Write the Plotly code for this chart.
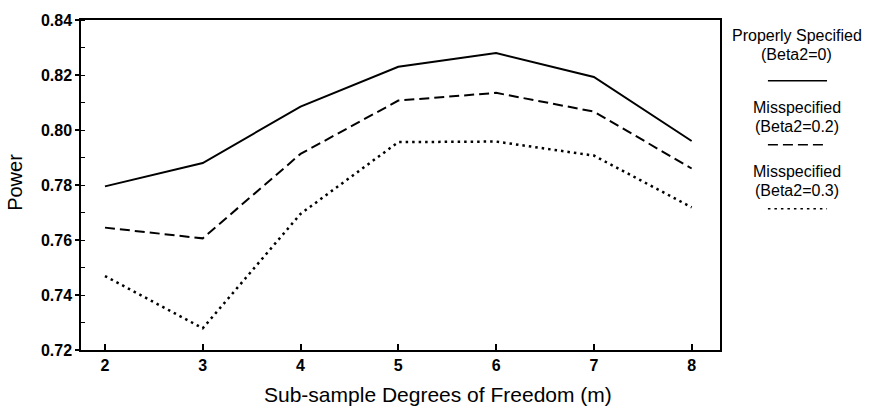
import plotly.graph_objects as go

df_m = [2, 3, 4, 5, 6, 7, 8]
power_proper = [0.7795, 0.788, 0.8085, 0.823, 0.828, 0.8193, 0.796]
power_mis02 = [0.7645, 0.7606, 0.7913, 0.8107, 0.8135, 0.8067, 0.786]
power_mis03 = [0.7469, 0.7279, 0.7695, 0.7956, 0.7958, 0.7907, 0.7719]
series_names = ["Properly Specified (Beta2=0)", "Misspecified (Beta2=0.2)", "Misspecified (Beta2=0.3)"]
y_ticks = [0.72, 0.74, 0.76, 0.78, 0.80, 0.82, 0.84]
y_tick_labels = ["0.72", "0.74", "0.76", "0.78", "0.80", "0.82", "0.84"]
x_title = "Sub-sample Degrees of Freedom (m)"
y_title = "Power"

FONT = "Liberation Sans, Arial, Helvetica, sans-serif"
DASHED = "10px,5px"
DOTTED = "2.5px,4px"

fig = go.Figure()
styles = [("solid", 2, power_proper), (DASHED, 2, power_mis02), (DOTTED, 2.5, power_mis03)]
for name, (dash, w, vals) in zip(series_names, styles):
    fig.add_trace(go.Scatter(x=df_m, y=vals, mode="lines", name=name,
                             line=dict(color="black", width=w, dash=dash),
                             showlegend=False))

tickfont = dict(size=16, family=FONT, weight="bold")
fig.update_layout(
    width=870, height=413,
    margin=dict(l=81, r=150, t=15, b=63),
    paper_bgcolor="white", plot_bgcolor="white",
    font=dict(family=FONT, color="black", size=16),
    xaxis=dict(range=[1.755, 8.29], tickvals=df_m, ticks="inside", ticklen=6,
               tickwidth=1.5, tickcolor="black", showline=True, linecolor="black",
               linewidth=1.5, mirror=True, showgrid=False, zeroline=False,
               tickfont=tickfont),
    yaxis=dict(range=[0.72, 0.84], tickvals=y_ticks, ticktext=y_tick_labels,
               ticks="outside", ticklen=4, tickwidth=1.5, tickcolor="black",
               minor=dict(dtick=0.01, ticks="inside", ticklen=4, tickcolor="black", tickwidth=1),
               showline=True, linecolor="black", linewidth=1.5, mirror=True,
               showgrid=False, zeroline=False, tickfont=tickfont),
)

# axis titles
fig.add_annotation(x=0.559, y=-0.134, xref="paper", yref="paper", text=x_title,
                   showarrow=False, xanchor="center", yanchor="middle",
                   font=dict(size=21, family=FONT))
fig.add_annotation(x=-0.103, y=0.507, xref="paper", yref="paper", text=y_title,
                   showarrow=False, xanchor="center", yanchor="middle", textangle=-90,
                   font=dict(size=20, family=FONT))

# legend block (text above sample line)
leg_x = 1.1205
leg_items = [
    ("Properly Specified", 0.952, "(Beta2=0)", 0.896, 0.816, "solid"),
    ("Misspecified", 0.734, "(Beta2=0.2)", 0.676, 0.622, DASHED),
    ("Misspecified", 0.54, "(Beta2=0.3)", 0.482, 0.428, DOTTED),
]
for t1, y1, t2, y2, yl, dash in leg_items:
    fig.add_annotation(x=leg_x, y=y1, xref="paper", yref="paper", text=t1,
                       showarrow=False, xanchor="center", yanchor="middle",
                       font=dict(size=16, family=FONT))
    fig.add_annotation(x=leg_x, y=y2, xref="paper", yref="paper", text=t2,
                       showarrow=False, xanchor="center", yanchor="middle",
                       font=dict(size=16, family=FONT))
    fig.add_shape(type="line", xref="paper", yref="paper", x0=1.075, x1=1.1675,
                  y0=yl, y1=yl, line=dict(color="black", width=1.5, dash=dash))

fig.write_html("out.html", config={"displayModeBar": False},
               post_script="document.body.style.margin='0';")
